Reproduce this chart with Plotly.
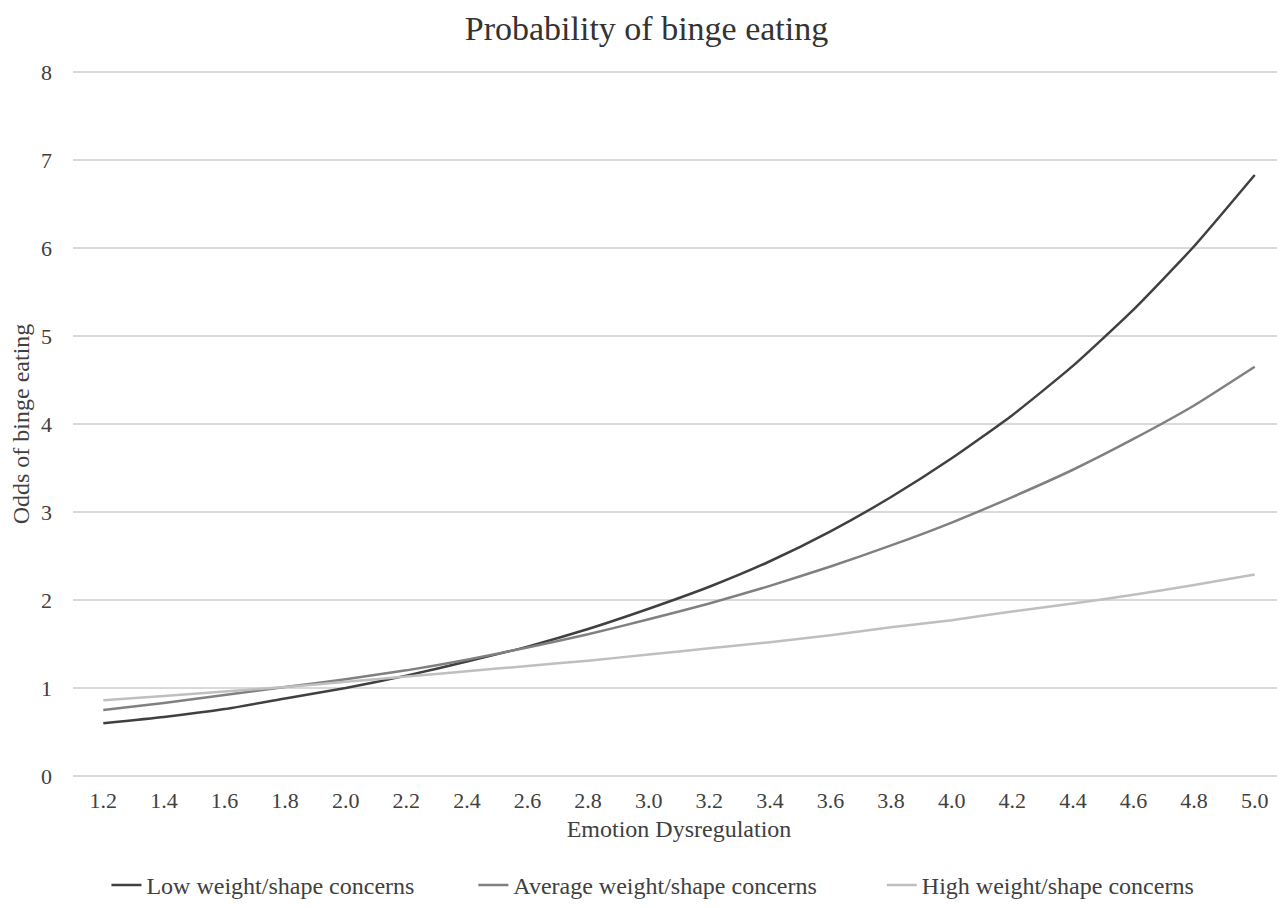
import plotly.graph_objects as go

x_labels = ["1.2", "1.4", "1.6", "1.8", "2.0", "2.2", "2.4", "2.6", "2.8", "3.0",
            "3.2", "3.4", "3.6", "3.8", "4.0", "4.2", "4.4", "4.6", "4.8", "5.0"]

low_concerns = [0.60, 0.67, 0.76, 0.88, 1.00, 1.14, 1.30, 1.47, 1.67, 1.90,
                2.15, 2.44, 2.78, 3.17, 3.61, 4.10, 4.66, 5.30, 6.02, 6.83]
avg_concerns = [0.75, 0.83, 0.92, 1.01, 1.10, 1.20, 1.32, 1.46, 1.61, 1.78,
                1.96, 2.16, 2.38, 2.62, 2.88, 3.17, 3.48, 3.83, 4.21, 4.65]
high_concerns = [0.86, 0.91, 0.96, 1.01, 1.07, 1.13, 1.19, 1.25, 1.31, 1.38,
                 1.45, 1.52, 1.60, 1.69, 1.77, 1.87, 1.96, 2.06, 2.17, 2.29]

series_names = ["Low weight/shape concerns", "Average weight/shape concerns",
                "High weight/shape concerns"]
series_values = [low_concerns, avg_concerns, high_concerns]
series_colors = ["#404040", "#808080", "#bfbfbf"]
legend_pad = [9, 10, 0]  # trailing spaces to mimic legend spacing

y_ticks = [0, 1, 2, 3, 4, 5, 6, 7, 8]

FONT = "Liberation Serif, Times New Roman, serif"
TXT = "#404040"

fig = go.Figure()
for name, vals, col, pad in zip(series_names, series_values, series_colors, legend_pad):
    fig.add_trace(go.Scatter(x=x_labels, y=vals, name=name + "\u00a0" * pad, mode="lines",
                             line=dict(color=col, width=2.5, shape="spline", smoothing=0.5)))

# page has an 8px body margin; figure is sized to fit the window
fig.update_layout(
    width=1277, height=900,
    margin=dict(l=65, r=0, t=63, b=130),
    paper_bgcolor="white", plot_bgcolor="white",
    font=dict(family=FONT, color=TXT, size=22),
    title=dict(text="Probability of binge eating", x=0.5, xref="container", xanchor="center",
               y=1 - 20 / 900, yanchor="middle", font=dict(size=34, color="#333333")),
    showlegend=True,
    legend=dict(orientation="h", x=0.0276, xanchor="left", y=-0.154, yanchor="middle",
                font=dict(size=24, color=TXT), bgcolor="rgba(0,0,0,0)"),
)
fig.update_xaxes(type="category", range=[-0.5, 19.5], showgrid=False, showline=False,
                 zeroline=False, ticks="", ticklabelstandoff=8,
                 tickfont=dict(size=22, color=TXT),
                 title=dict(text="Emotion Dysregulation", font=dict(size=24, color=TXT), standoff=8))
fig.update_yaxes(range=[-0.012, 8.012], tickvals=y_ticks, showgrid=True, gridcolor="#d9d9d9",
                 gridwidth=1.5, zeroline=False, showline=False, ticks="", ticklabelstandoff=20,
                 tickfont=dict(size=22, color=TXT),
                 title=dict(text="Odds of binge eating", font=dict(size=24, color=TXT), standoff=8))

fig.write_html("out.html")
